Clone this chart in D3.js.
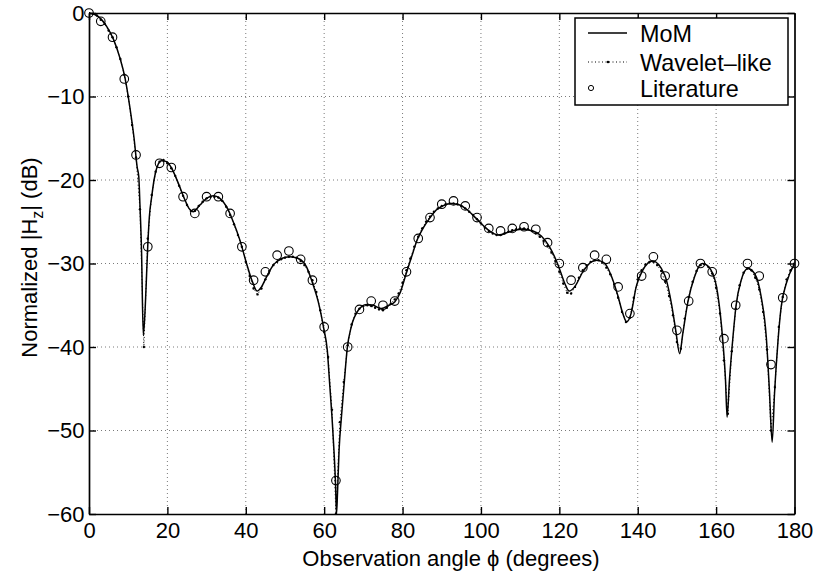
<!DOCTYPE html>
<html>
<head>
<meta charset="utf-8">
<script src="https://cdn.jsdelivr.net/npm/d3@7"></script>
<style>
  html, body { margin: 0; padding: 0; background: #fff; }
  svg { display: block; font-family: "Liberation Sans", Arial, Helvetica, sans-serif; }
</style>
</head>
<body>
<svg id="chart" width="816" height="571"></svg>
<script>
// Observation angle (degrees) and normalized |Hz| (dB) for the MoM reference solution
const momAngles = [0, 2, 4.5, 6.2, 7.9, 9.2, 10.4, 11.5, 12.3, 12.7, 13.0, 13.4, 13.85, 14.35, 14.7, 15.0, 15.4, 16.0, 16.6, 17.4,
  18.5, 19.8, 21.1, 22.8, 24.5, 25.5, 26.6, 28.3, 30.0, 31.7, 33.4, 35.1, 36.8, 38.5, 40.2, 41.7, 42.9, 44.0, 45.3, 47.0,
  49.1, 51.2, 53.4, 55.5, 57.0, 58.5, 59.9, 60.8, 61.4, 62.0, 62.5, 62.9, 63.15, 63.4, 63.8, 64.4, 65.1, 65.9, 66.9, 68.7,
  70.8, 72.5, 74.6, 76.5, 78.0, 79.3, 80.8, 82.3, 83.8, 85.2, 86.9, 88.6, 90.3, 92.5, 94.6, 96.3, 98.8, 101.4, 104.5, 107.3,
  110.3, 113.3, 115.4, 117.5, 119.7, 121.4, 122.5, 123.9, 126.0, 128.2, 129.6, 131.6, 133.2, 134.9, 136.2, 137.2, 138.3, 139.6, 141.3, 143.8,
  146.9, 148.6, 149.7, 150.7, 151.5, 152.8, 154.5, 156.0, 156.6, 158.7, 160.4, 161.7, 162.4, 162.8, 163.4, 164.3, 165.1, 166.4, 168.1, 169.8,
  171.5, 172.8, 173.6, 174.3, 174.9, 175.8, 176.6, 177.9, 180];
const momValues = [0, -0.3, -1.6, -3.1, -5.4, -7.8, -11.2, -15.0, -18.5, -19.6, -23.0, -28.4, -38.6, -35.2, -31.2, -27.8, -24.4, -22.0, -20.0, -18.4,
  -17.7, -17.8, -18.6, -20.4, -22.4, -23.4, -23.8, -23.0, -22.2, -21.9, -22.2, -23.2, -25.0, -27.2, -30.0, -32.2, -33.3, -32.8, -31.6, -30.2,
  -29.4, -29.2, -29.4, -30.4, -32.3, -34.6, -37.8, -40.4, -44.4, -48.4, -52.4, -56.4, -60.0, -57.5, -52.4, -48.4, -44.4, -40.1, -37.6, -35.6,
  -34.9, -35.0, -35.4, -35.0, -34.6, -33.6, -31.4, -29.2, -27.1, -25.8, -24.6, -23.6, -23.1, -22.8, -23.0, -23.5, -24.6, -25.8, -26.6, -26.2,
  -25.9, -26.1, -26.7, -28.0, -30.2, -32.4, -33.3, -32.8, -31.0, -29.8, -29.6, -30.0, -31.4, -33.8, -36.0, -37.0, -36.0, -32.8, -30.8, -29.7,
  -31.4, -34.8, -38.0, -40.8, -38.4, -34.6, -31.6, -30.1, -30.0, -30.8, -33.6, -39.2, -44.0, -48.4, -44.0, -38.8, -35.0, -32.0, -30.6, -31.2,
  -34.0, -38.8, -45.2, -51.4, -45.6, -39.2, -35.2, -32.4, -30.0];

// Wavelet-like solution, sampled every degree
const waveletAngles = d3.range(0, 181, 1);
const waveletValues = [
  0, -0.1, -0.3, -0.8, -1.3, -2.1, -2.9, -4.1, -5.5, -7.4,
  -10.0, -13.4, -17.3, -23.5, -40.0, -27.0, -21.8, -19.0, -17.8, -17.6,
  -18.0, -18.6, -19.5, -20.7, -21.9, -23.0, -23.7, -23.7, -23.1, -22.6,
  -22.2, -22.0, -22.0, -22.1, -22.5, -23.2, -24.2, -25.3, -26.6, -28.0,
  -29.8, -31.5, -33.0, -33.7, -33.0, -31.9, -30.9, -30.2, -29.8, -29.5,
  -29.3, -29.2, -29.2, -29.3, -29.7, -30.2, -31.0, -32.0, -33.4, -35.6,
  -38.2, -41.2, -47.5, -60.0, -49.0, -44.2, -39.8, -37.3, -36.0, -35.4,
  -35.1, -35.0, -35.1, -35.3, -35.5, -35.6, -35.3, -34.8, -34.3, -33.6,
  -32.3, -30.8, -29.4, -28.0, -26.8, -25.8, -25.0, -24.4, -23.8, -23.4,
  -23.1, -22.9, -22.8, -22.8, -22.9, -23.1, -23.4, -23.8, -24.2, -24.7,
  -25.2, -25.7, -26.1, -26.4, -26.6, -26.6, -26.4, -26.2, -26.0, -25.9,
  -25.8, -25.8, -25.9, -26.1, -26.4, -26.8, -27.3, -27.9, -28.7, -29.7,
  -31.0, -32.4, -33.5, -33.6, -32.8, -31.7, -30.8, -30.2, -29.8, -29.6,
  -29.6, -29.9, -30.5, -31.3, -32.5, -34.1, -35.8, -37.0, -36.5, -34.1,
  -31.9, -30.8, -30.1, -29.8, -29.8, -30.2, -30.9, -32.2, -33.9, -36.2,
  -39.4, -40.2, -36.6, -34.0, -32.2, -30.9, -30.2, -30.1, -30.4, -31.2,
  -32.9, -36.0, -41.6, -48.0, -40.5, -35.4, -32.6, -31.1, -30.6, -30.8,
  -31.7, -33.1, -35.8, -40.3, -50.0, -44.8, -37.6, -34.0, -31.9, -30.8,
  -30.0];

// Published results, every 3 degrees
const literatureAngles = d3.range(0, 181, 3);
const literatureValues = [
  0, -1.0, -2.9, -7.9, -17.0, -28.0, -18.0, -18.5, -22.0, -24.0,
  -22.0, -22.0, -24.0, -28.0, -32.0, -31.0, -29.0, -28.5, -29.5, -32.0,
  -37.6, -56.0, -40.0, -35.5, -34.5, -35.0, -34.5, -31.0, -27.0, -24.5,
  -22.9, -22.5, -23.1, -24.5, -25.8, -26.1, -25.8, -25.6, -25.9, -27.5,
  -30.0, -32.0, -30.5, -29.0, -29.5, -32.8, -36.0, -31.5, -29.2, -31.5,
  -38.0, -34.5, -30.0, -31.0, -39.0, -35.0, -30.0, -31.5, -42.1, -34.1,
  -30.0];

const seriesNames = ["MoM", "Wavelet\u2013like", "Literature"];
const xTickValues = [0, 20, 40, 60, 80, 100, 120, 140, 160, 180];
const xTickLabels = ["0", "20", "40", "60", "80", "100", "120", "140", "160", "180"];
const yTickValues = [-60, -50, -40, -30, -20, -10, 0];
const yTickLabels = ["\u221260", "\u221250", "\u221240", "\u221230", "\u221220", "\u221210", "0"];
const xTitle = "Observation angle \u03d5 (degrees)";

const svg = d3.select("#chart");
const plot = { left: 89, top: 13, right: 794.5, bottom: 514 };
const FS = 22;
const LEGEND_FS = 23.4;

const x = d3.scaleLinear().domain([0, 180]).range([plot.left, plot.right]);
const y = d3.scaleLinear().domain([-60, 0]).range([plot.bottom, plot.top]);

// dotted grid
const grid = svg.append("g").attr("stroke", "#7a7a7a").attr("stroke-width", 1).attr("stroke-dasharray", "1,3");
grid.selectAll("line.gx").data(xTickValues.slice(1, -1)).join("line")
  .attr("x1", d => x(d)).attr("x2", d => x(d)).attr("y1", plot.top).attr("y2", plot.bottom);
grid.selectAll("line.gy").data(yTickValues.slice(1, -1)).join("line")
  .attr("x1", plot.left).attr("x2", plot.right).attr("y1", d => y(d)).attr("y2", d => y(d));

svg.append("clipPath").attr("id", "plotclip").append("rect")
  .attr("x", plot.left).attr("y", plot.top - 1)
  .attr("width", plot.right - plot.left).attr("height", plot.bottom - plot.top + 2);

const layer = svg.append("g").attr("clip-path", "url(#plotclip)");

const mom = momAngles.map((a, i) => [a, momValues[i]]);
const wav = waveletAngles.map((a, i) => [a, waveletValues[i]]);
const lit = literatureAngles.map((a, i) => [a, literatureValues[i]]);

// Wavelet-like: dotted line with point markers
layer.append("path").datum(wav)
  .attr("d", d3.line().x(d => x(d[0])).y(d => y(d[1])))
  .attr("fill", "none").attr("stroke", "#000").attr("stroke-width", 1)
  .attr("stroke-dasharray", "1,2.5");
layer.append("g").selectAll("circle").data(wav).join("circle")
  .attr("cx", d => x(d[0])).attr("cy", d => y(d[1])).attr("r", 1.2).attr("fill", "#000");

// MoM: solid line
layer.append("path").datum(mom)
  .attr("d", d3.line().curve(d3.curveMonotoneX).x(d => x(d[0])).y(d => y(d[1])))
  .attr("fill", "none").attr("stroke", "#000").attr("stroke-width", 1.5);

// Literature: open circles
svg.append("g").selectAll("circle").data(lit).join("circle")
  .attr("cx", d => x(d[0])).attr("cy", d => y(d[1])).attr("r", 4.3)
  .attr("fill", "none").attr("stroke", "#000").attr("stroke-width", 1.1);

// axes with inward ticks on all four sides
function styleAxis(g) {
  g.attr("font-size", FS).attr("font-family", "Liberation Sans, Arial, Helvetica, sans-serif");
  g.select(".domain").attr("stroke-width", 1.7);
  g.selectAll(".tick line").attr("stroke-width", 1.4);
  g.selectAll(".tick text").attr("fill", "#000");
}
svg.append("g").attr("transform", `translate(0,${plot.bottom})`)
  .call(d3.axisBottom(x).tickValues(xTickValues).tickFormat((d, i) => xTickLabels[i])
    .tickSizeInner(-7).tickSizeOuter(0).tickPadding(8.5))
  .call(styleAxis);
svg.append("g").attr("transform", `translate(0,${plot.top})`)
  .call(d3.axisTop(x).tickValues(xTickValues).tickFormat("").tickSizeInner(-7).tickSizeOuter(0))
  .call(styleAxis);
svg.append("g").attr("transform", `translate(${plot.left},0)`)
  .call(d3.axisLeft(y).tickValues(yTickValues).tickFormat((d, i) => yTickLabels[i])
    .tickSizeInner(-7).tickSizeOuter(0).tickPadding(4.5))
  .call(styleAxis);
svg.append("g").attr("transform", `translate(${plot.right},0)`)
  .call(d3.axisRight(y).tickValues(yTickValues).tickFormat("").tickSizeInner(-7).tickSizeOuter(0))
  .call(styleAxis);

// axis titles
svg.append("text").attr("x", 451).attr("y", 566)
  .attr("text-anchor", "middle").attr("font-size", FS).text(xTitle);

const yt = svg.append("text").attr("transform", `translate(37,${(plot.top + plot.bottom) / 2 - 6}) rotate(-90)`)
  .attr("text-anchor", "middle").attr("font-size", FS);
yt.append("tspan").text("Normalized |H");
yt.append("tspan").attr("dy", 6).attr("font-size", 16).text("z");
yt.append("tspan").attr("dy", -6).text("| (dB)");

// legend
const lg = svg.append("g");
lg.append("rect").attr("x", 575).attr("y", 18).attr("width", 213).attr("height", 87)
  .attr("fill", "#fff").attr("stroke", "#000").attr("stroke-width", 1.5);
const rowY = [33, 62, 88];
lg.append("line").attr("x1", 588).attr("x2", 627).attr("y1", rowY[0]).attr("y2", rowY[0])
  .attr("stroke", "#000").attr("stroke-width", 1.3);
lg.append("line").attr("x1", 588).attr("x2", 627).attr("y1", rowY[1]).attr("y2", rowY[1])
  .attr("stroke", "#000").attr("stroke-width", 1).attr("stroke-dasharray", "1,2.5");
lg.append("circle").attr("cx", 608).attr("cy", rowY[1]).attr("r", 1.3).attr("fill", "#000");
lg.append("circle").attr("cx", 591).attr("cy", rowY[2]).attr("r", 2.6)
  .attr("fill", "none").attr("stroke", "#000").attr("stroke-width", 1);
lg.selectAll("text.lab").data(seriesNames).join("text")
  .attr("x", 640).attr("y", (d, i) => rowY[i] + 8.5).attr("font-size", LEGEND_FS).text(d => d);
</script>
</body>
</html>
